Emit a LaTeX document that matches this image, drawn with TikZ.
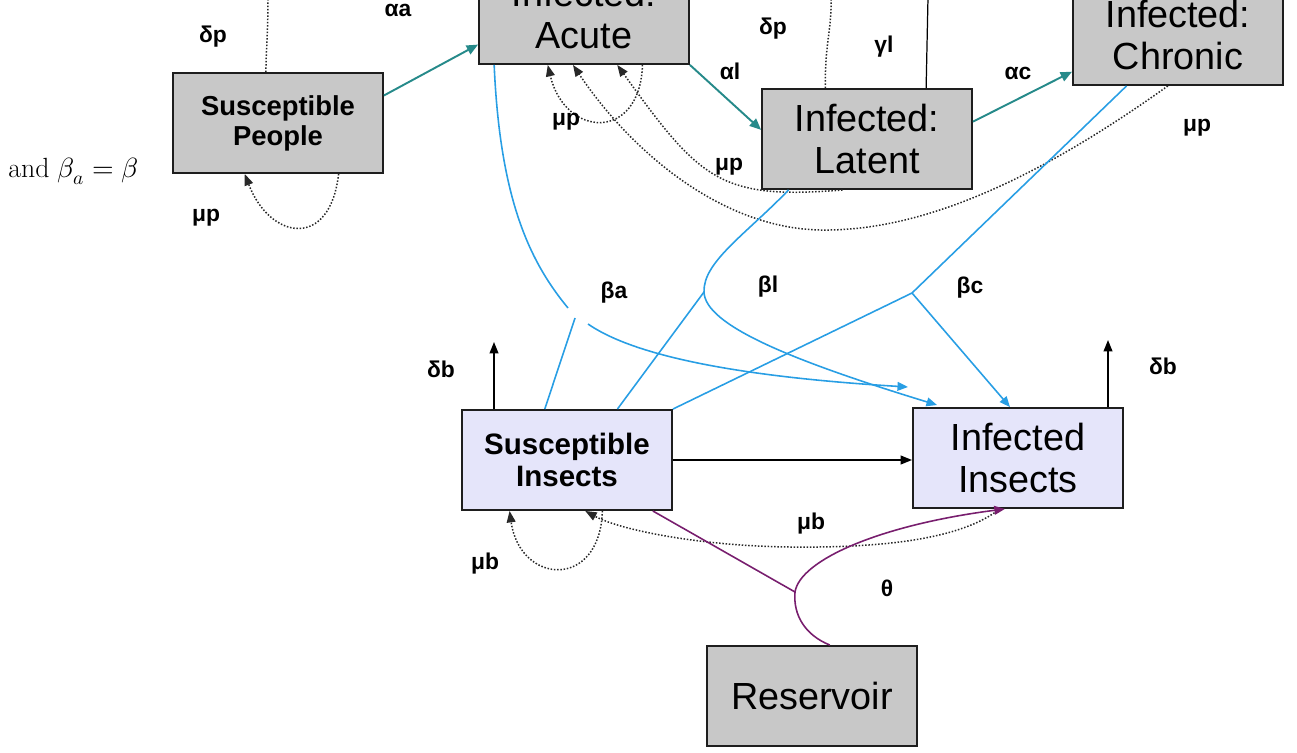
\documentclass[tikz,border=0pt]{standalone}
\usepackage{unicode-math}
\usetikzlibrary{arrows.meta,calc}
\newfontfamily\arialf{Liberation Sans}
\newcommand\regfont{\arialf\fontsize{21.5}{24.4}\selectfont}
\newcommand\boldfontA{\arialf\bfseries\fontsize{15.6}{17}\selectfont}
\newcommand\boldfontB{\arialf\bfseries\fontsize{16.8}{18.7}\selectfont}
\newcommand\labfont{\arialf\bfseries\fontsize{13}{15}\selectfont}
\definecolor{boxgray}{RGB}{200,200,200}
\definecolor{lav}{RGB}{229,229,250}
\definecolor{tealc}{RGB}{38,138,138}
\definecolor{bluec}{RGB}{40,158,228}
\definecolor{purc}{RGB}{120,30,110}
\definecolor{dotc}{RGB}{40,40,40}
\definecolor{boxline}{RGB}{30,30,30}
\begin{document}
\begin{tikzpicture}[x=0.02cm,y=-0.02cm,
  box/.style={draw=boxline, line width=1.1pt, minimum width=4.2cm, minimum height=2cm, inner sep=0pt, align=center},
  graybox/.style={box, fill=boxgray, font=\regfont},
  lavbox/.style={box, fill=lav, font=\regfont},
  lab/.style={font=\labfont, inner sep=0pt},
  tealarrow/.style={draw=tealc, line width=1.1pt, -{Triangle[length=6.5pt,width=5.5pt]}},
  blueline/.style={draw=bluec, line width=0.9pt},
  bluearrow/.style={blueline, -{Triangle[length=6pt,width=5pt]}},
  blackarrow/.style={draw=black, line width=0.9pt, -{Triangle[length=6.5pt,width=5pt]}},
  dotline/.style={draw=dotc, line width=0.85pt, densely dotted},
  dotarrow/.style={dotline, -{Triangle[length=6.5pt,width=5pt]}},
  purline/.style={draw=purc, line width=0.9pt},
  purarrow/.style={purline, -{Triangle[length=6pt,width=5pt]}}]
\useasboundingbox (0,0) rectangle (1297,753);
\clip (0,0) rectangle (1297,753);

% boxes
\node[graybox, font=\boldfontA] (sp) at (278,123) {Susceptible\\People};
\node[graybox] (acute) at (584,14) {Infected:\\Acute};
\node[graybox] (latent) at (867,139) {Infected:\\Latent};
\node[graybox] (chronic) at (1178,35) {Infected:\\Chronic};
\node[lavbox, font=\boldfontB] (si) at (567,460) {Susceptible\\Insects};
\node[lavbox] (ii) at (1018,458) {Infected\\Insects};
\node[graybox] (res) at (812,696) {Reservoir};

% free ends
\coordinate (dp1) at (268,-3);
\coordinate (dp2) at (831,-3);
\coordinate (gl) at (928,-3);
\coordinate (ja1) at (568,308);
\coordinate (ja2) at (588,324);
\coordinate (jaI) at (575,318);
\coordinate (ta) at (908,387);
\coordinate (jl) at (704,292);
\coordinate (tl) at (937,405);
\coordinate (jc) at (912,293);
\coordinate (db1) at (494,342);
\coordinate (db2) at (1108,340);
\coordinate (jt) at (795,592);

% teal transitions
\draw[tealarrow] ($(sp.north east)!0.23!(sp.south east)$) -- ($(acute.north west)!0.8!(acute.south west)$);
\draw[tealarrow] (acute.south east) -- ($(latent.north west)!0.41!(latent.south west)$);
\draw[tealarrow] ($(latent.north east)!0.33!(latent.south east)$) -- ($(chronic.north west)!0.86!(chronic.south west)$);

% people deaths / dotted
\draw[dotline] ($(sp.north west)!0.443!(sp.north east)$) .. controls (266,50) and (268,35) .. (dp1);
\draw[dotarrow] ($(sp.south west)!0.786!(sp.south east)$) .. controls (330,250) and (270,240) .. ($(sp.south west)!0.343!(sp.south east)$);
\draw[dotarrow] ($(acute.south west)!0.776!(acute.south east)$) .. controls (640,142) and (565,138) .. ($(acute.south west)!0.329!(acute.south east)$);
\draw[dotarrow] ($(latent.south west)!0.385!(latent.south east)$) .. controls (720,200) and (700,180) .. ($(acute.south west)!0.657!(acute.south east)$);
\draw[dotarrow] ($(chronic.south west)!0.452!(chronic.south east)$) .. controls (1050,170) and (930,232) .. (820,230) .. controls (720,228) and (630,150) .. ($(acute.south west)!0.448!(acute.south east)$);
\draw[dotline] ($(latent.north west)!0.303!(latent.north east)$) .. controls (825,40) and (832,30) .. (dp2);
\draw[draw=black, line width=0.7pt] ($(latent.north west)!0.779!(latent.north east)$) -- (gl);

% blue infection lines
\draw[blueline] ($(acute.south west)!0.076!(acute.south east)$) .. controls (500,200) and (530,262) .. (ja1);
\draw[blueline] ($(si.north west)!0.395!(si.north east)$) -- (jaI);
\draw[bluearrow] (ja2) .. controls (640,360) and (760,378) .. (ta);
\draw[bluearrow] ($(latent.south west)!0.13!(latent.south east)$) .. controls (745,235) and (703,262) .. (jl) .. controls (705,325) and (790,360) .. (tl);
\draw[blueline] ($(si.north west)!0.738!(si.north east)$) -- (jl);
\draw[blueline] (si.north east) -- (jc);
\draw[blueline] (jc) -- ($(chronic.south west)!0.257!(chronic.south east)$);
\draw[bluearrow] (jc) -- ($(ii.north west)!0.462!(ii.north east)$);

% insects
\draw[blackarrow] (si.east) -- (si.east -| ii.west);
\draw[blackarrow] (db1 |- si.north) -- (db1);
\draw[blackarrow] (db2 |- ii.north) -- (db2);
\draw[dotarrow] ($(si.south west)!0.667!(si.south east)$) .. controls (600,590) and (520,585) .. ($(si.south west)!0.229!(si.south east)$);
\draw[dotarrow] ($(ii.south west)!0.414!(ii.south east)$) .. controls (960,540) and (880,548) .. (790,547) .. controls (700,546) and (620,530) .. ($(si.south west)!0.586!(si.south east)$);

% reservoir
\draw[purline] ($(si.south west)!0.905!(si.south east)$) -- (jt);
\draw[purarrow] ($(res.north west)!0.584!(res.north east)$) .. controls (805,635) and (793,615) .. (jt) .. controls (800,560) and (880,525) .. ($(ii.south west)!0.438!(ii.south east)$);

% labels
\node[lab] (l1) at (213,37) {δp};
\node[lab] (l2) at (398,10) {αa};
\node[lab] (l3) at (773,29) {δp};
\node[lab] (l4) at (884,47) {γl};
\node[lab] (l5) at (730,71) {αl};
\node[lab] (l6) at (1018,73) {αc};
\node[lab] (l7) at (566,122) {μp};
\node[lab] (l8) at (729,167) {μp};
\node[lab] (l9) at (1197,128) {μp};
\node[lab] (l10) at (206,218) {μp};
\node[lab] (l11) at (614,293) {βa};
\node[lab] (l12) at (768,287) {βl};
\node[lab] (l13) at (970,288) {βc};
\node[lab] (l14) at (441,369) {δb};
\node[lab] (l15) at (1163,366) {δb};
\node[lab] (l16) at (811,524) {μb};
\node[lab] (l17) at (485,564) {μb};
\node[lab] (l18) at (887,588) {θ};
\node[anchor=west, inner sep=0pt, font=\fontsize{15.8}{19}\selectfont] (note) at (8,171) {and $\beta_a=\beta$};
\end{tikzpicture}
\end{document}
